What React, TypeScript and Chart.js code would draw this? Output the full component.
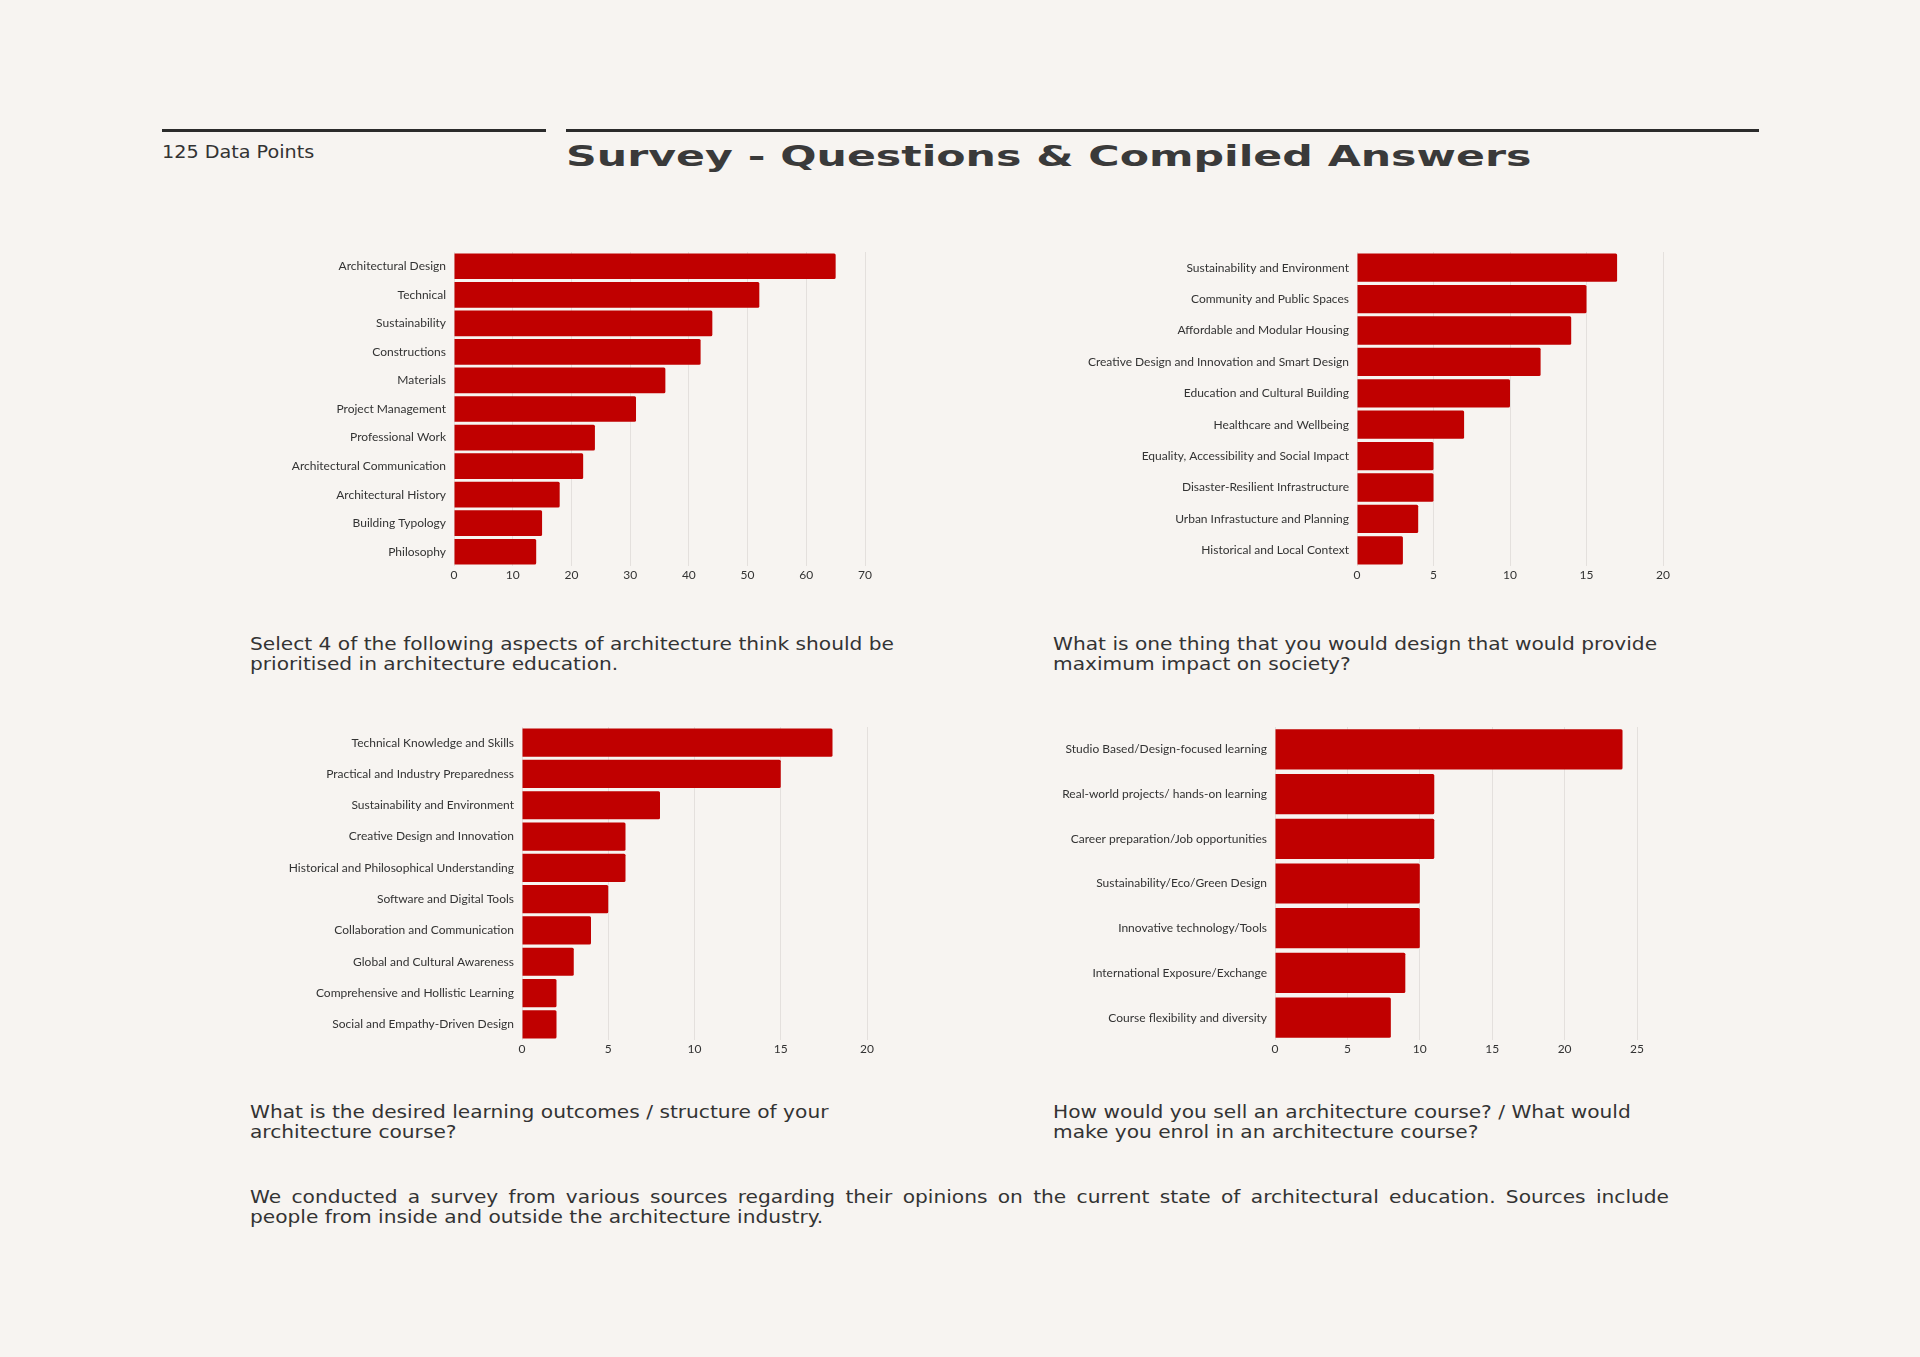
import React, { useEffect, useLayoutEffect, useRef } from "react";
import { Chart, registerables } from "chart.js";

Chart.register(...registerables);

// ---------- data ----------
const q1Categories = [
  "Architectural Design",
  "Technical",
  "Sustainability",
  "Constructions",
  "Materials",
  "Project Management",
  "Professional Work",
  "Architectural Communication",
  "Architectural History",
  "Building Typology",
  "Philosophy",
];
const q1Values = [65, 52, 44, 42, 36, 31, 24, 22, 18, 15, 14];
const q1AxisMax = 70;
const q1AxisStep = 10;

const q2Categories = [
  "Sustainability and Environment",
  "Community and Public Spaces",
  "Affordable and Modular Housing",
  "Creative Design and Innovation and Smart Design",
  "Education and Cultural Building",
  "Healthcare and Wellbeing",
  "Equality, Accessibility and Social Impact",
  "Disaster-Resilient Infrastructure",
  "Urban Infrastucture and Planning",
  "Historical and Local Context",
];
const q2Values = [17, 15, 14, 12, 10, 7, 5, 5, 4, 3];
const q2AxisMax = 20;
const q2AxisStep = 5;

const q3Categories = [
  "Technical Knowledge and Skills",
  "Practical and Industry Preparedness",
  "Sustainability and Environment",
  "Creative Design and Innovation",
  "Historical and Philosophical Understanding",
  "Software and Digital Tools",
  "Collaboration and Communication",
  "Global and Cultural Awareness",
  "Comprehensive and Hollistic Learning",
  "Social and Empathy-Driven Design",
];
const q3Values = [18, 15, 8, 6, 6, 5, 4, 3, 2, 2];
const q3AxisMax = 20;
const q3AxisStep = 5;

const q4Categories = [
  "Studio Based/Design-focused learning",
  "Real-world projects/ hands-on learning",
  "Career preparation/Job opportunities",
  "Sustainability/Eco/Green Design",
  "Innovative technology/Tools",
  "International Exposure/Exchange",
  "Course flexibility and diversity",
];
const q4Values = [24, 11, 11, 10, 10, 9, 8];
const q4AxisMax = 25;
const q4AxisStep = 5;

const headerLeft = "125 Data Points";
const headerTitle = "Survey - Questions & Compiled Answers";
const caption1 = ["Select 4 of the following aspects of architecture think should be", "prioritised in architecture education."];
const caption2 = ["What is one thing that you would design that would provide", "maximum impact on society?"];
const caption3 = ["What is the desired learning outcomes / structure of your", "architecture course?"];
const caption4 = ["How would you sell an architecture course? / What would", "make you enrol in an architecture course?"];
const summary = [
  "We conducted a survey from various sources regarding their opinions on the current state of architectural education. Sources include",
  "people from inside and outside the architecture industry.",
];

// ---------- styles ----------
const PAGE_BG = "#f7f4f1";
const BAR = "#c00000";
const INK = "#333333";
const GRID = "#e4e0dd";
const CHART_FONT = "Lato, 'Noto Sans', sans-serif";
const TEXT_FONT = "'DejaVu Sans', sans-serif";
const TEXT_SIZE = 18;
const TEXT_STRETCH = 1.12;

type PanelProps = {
  labels: string[];
  values: number[];
  max: number;
  step: number;
  left: number;
  top: number;
  right: number;
  bottom: number;
};

function BarPanel({ labels, values, max, step, left, top, right, bottom }: PanelProps) {
  const ref = useRef<HTMLCanvasElement>(null);
  const yW = 300;
  const padR = 24;
  const xH = 22;
  const w = Math.round(right - left + yW + padR);
  const h = Math.round(bottom - top + xH);
  useEffect(() => {
    const chart = new Chart(ref.current as HTMLCanvasElement, {
      type: "bar",
      data: {
        labels,
        datasets: [
          {
            data: values,
            backgroundColor: BAR,
            barPercentage: 0.9,
            categoryPercentage: 1,
            borderRadius: 1.5,
            borderSkipped: "start",
          },
        ],
      },
      options: {
        indexAxis: "y",
        responsive: false,
        maintainAspectRatio: false,
        animation: false,
        layout: { padding: { left: 0, right: padR, top: 0, bottom: 0 } },
        plugins: { legend: { display: false }, tooltip: { enabled: false } },
        scales: {
          x: {
            min: 0,
            max,
            ticks: { stepSize: step, color: INK, font: { family: CHART_FONT, size: 12 }, padding: 2 },
            grid: { color: GRID, lineWidth: 1, drawTicks: false },
            border: { display: false },
            afterFit: (s: any) => {
              s.height = xH;
              s.paddingLeft = 0;
              s.paddingRight = 0;
            },
          },
          y: {
            ticks: { color: INK, font: { family: CHART_FONT, size: 12 }, padding: 8 },
            grid: { display: false, drawTicks: false },
            border: { display: false },
            afterFit: (s: any) => {
              s.width = yW;
              s.paddingTop = 0;
              s.paddingBottom = 0;
            },
          },
        },
      },
    });
    return () => chart.destroy();
  }, []);
  return (
    <canvas
      ref={ref}
      width={w}
      height={h}
      style={{ position: "absolute", left: Math.round(left - yW), top: Math.round(top), width: w, height: h }}
    />
  );
}

function FitTitle({ text, left, top, width }: { text: string; left: number; top: number; width: number }) {
  const ref = useRef<HTMLSpanElement>(null);
  useLayoutEffect(() => {
    const el = ref.current;
    if (el) {
      el.style.transform = `scaleX(${width / el.offsetWidth})`;
    }
  }, []);
  return (
    <span
      ref={ref}
      style={{
        position: "absolute",
        left,
        top,
        display: "inline-block",
        whiteSpace: "nowrap",
        transformOrigin: "0 0",
        fontFamily: TEXT_FONT,
        fontWeight: 700,
        fontSize: 28,
        lineHeight: "32px",
        color: "#3a3a3a",
        letterSpacing: 0,
      }}
    >
      {text}
    </span>
  );
}

function Caption({ lines, left, top }: { lines: string[]; left: number; top: number }) {
  return (
    <div
      style={{
        position: "absolute",
        left,
        top,
        fontFamily: TEXT_FONT,
        fontSize: TEXT_SIZE,
        lineHeight: "19.5px",
        color: INK,
        whiteSpace: "nowrap",
        transform: `scaleX(${TEXT_STRETCH})`,
        transformOrigin: "0 0",
      }}
    >
      {lines.map((l, i) => (
        <div key={i}>{l}</div>
      ))}
    </div>
  );
}

export default function App() {
  useEffect(() => {
    document.body.style.margin = "0";
    document.body.style.background = PAGE_BG;
  }, []);
  return (
    <div style={{ position: "absolute", left: 0, top: 0, width: 1920, height: 1357, background: PAGE_BG, overflow: "hidden" }}>
      {/* header rules */}
      <div style={{ position: "absolute", left: 162, top: 129, width: 384, height: 3, background: "#2b2b2b" }} />
      <div style={{ position: "absolute", left: 566, top: 129, width: 1193, height: 3, background: "#2b2b2b" }} />
      <div
        style={{
          position: "absolute",
          left: 162,
          top: 141,
          fontFamily: TEXT_FONT,
          fontSize: TEXT_SIZE,
          lineHeight: "22px",
          color: INK,
          whiteSpace: "nowrap",
          transform: "scaleX(1.065)",
          transformOrigin: "0 0",
        }}
      >
        {headerLeft}
      </div>
      <FitTitle text={headerTitle} left={566} top={141} width={965} />

      <BarPanel labels={q1Categories} values={q1Values} max={q1AxisMax} step={q1AxisStep} left={454} top={252.3} right={864.5} bottom={566.5} />
      <BarPanel labels={q2Categories} values={q2Values} max={q2AxisMax} step={q2AxisStep} left={1357} top={252.3} right={1663} bottom={566.5} />
      <BarPanel labels={q3Categories} values={q3Values} max={q3AxisMax} step={q3AxisStep} left={521.5} top={727} right={866} bottom={1039.5} />
      <BarPanel labels={q4Categories} values={q4Values} max={q4AxisMax} step={q4AxisStep} left={1275} top={727} right={1637} bottom={1039.5} />

      <Caption lines={caption1} left={250} top={634} />
      <Caption lines={caption2} left={1053} top={634} />
      <Caption lines={caption3} left={250} top={1102} />
      <Caption lines={caption4} left={1053} top={1102} />

      <div
        style={{
          position: "absolute",
          left: 250,
          top: 1187,
          width: 1419 / TEXT_STRETCH,
          fontFamily: TEXT_FONT,
          fontSize: TEXT_SIZE,
          lineHeight: "20px",
          color: INK,
          transform: `scaleX(${TEXT_STRETCH})`,
          transformOrigin: "0 0",
        }}
      >
        <div style={{ textAlign: "justify", textAlignLast: "justify", whiteSpace: "nowrap" }}>{summary[0]}</div>
        <div style={{ whiteSpace: "nowrap" }}>{summary[1]}</div>
      </div>
    </div>
  );
}
